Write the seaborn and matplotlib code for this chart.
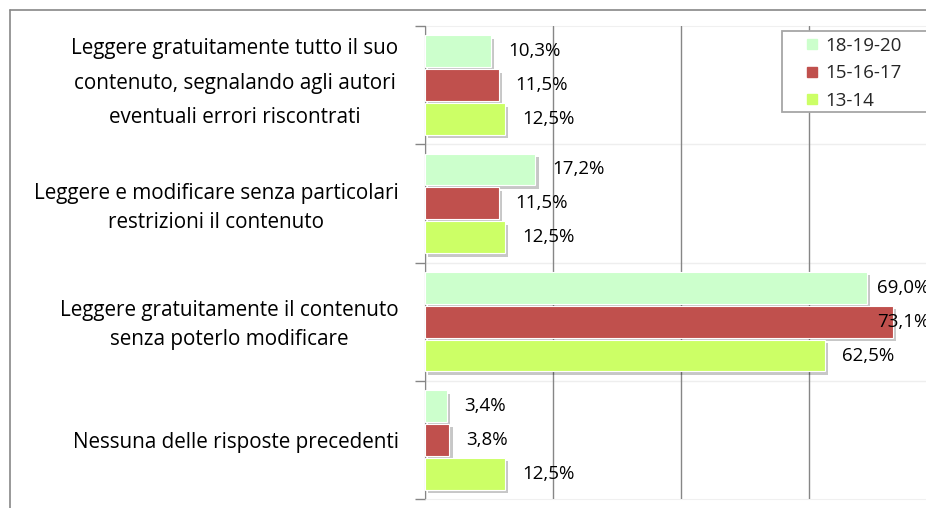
import matplotlib
matplotlib.use("Agg")
import matplotlib.pyplot as plt
import matplotlib.patheffects as pe
from matplotlib.lines import Line2D
from matplotlib.patches import Rectangle
import pandas as pd
import seaborn as sns

categories = [
    "Leggere gratuitamente tutto il suo\ncontenuto, segnalando agli autori\neventuali errori riscontrati",
    "Leggere e modificare senza particolari\nrestrizioni il contenuto",
    "Leggere gratuitamente il contenuto\nsenza poterlo modificare",
    "Nessuna delle risposte precedenti",
]
series = ["18-19-20", "15-16-17", "13-14"]
v_18_19_20 = [10.3, 17.2, 69.0, 3.4]
v_15_16_17 = [11.5, 11.5, 73.1, 3.8]
v_13_14 = [12.5, 12.5, 62.5, 12.5]
colors = ["#CCFFCC", "#C0504D", "#CCFF66"]

rows = []
for s, vals in zip(series, [v_18_19_20, v_15_16_17, v_13_14]):
    for c, v in zip(categories, vals):
        rows.append({"cat": c, "val": v, "serie": s})
df = pd.DataFrame(rows)

sns.set_style("white")
plt.rcParams["font.family"] = ["Open Sans", "DejaVu Sans"]
FS = 13.5
FS_CAT = 14.9

fig = plt.figure(figsize=(9.26, 5.08), dpi=100)
W, H = 926, 508
ax = fig.add_axes([425 / W, 9 / H, 512 / W, 473 / H])

sns.barplot(data=df, y="cat", x="val", hue="serie", orient="h",
            order=categories, hue_order=series, palette=colors, saturation=1,
            width=0.86, gap=0.06, ax=ax, legend=False, zorder=3,
            edgecolor="white", linewidth=0.8)

for p in ax.patches:
    p.set_path_effects([pe.SimplePatchShadow(offset=(2.5, -2.5), shadow_rgbFace="k", alpha=0.22),
                        pe.Normal()])

XMAX = 80
ax.set_xlim(0, XMAX)
ax.set_ylim(3.5, -0.5)

# value labels, clamped inside the plot area like the original
pad = 2.65
clamp = 70.6
for cont in ax.containers:
    for b in cont:
        v = b.get_width()
        x = min(v + pad, clamp)
        y = b.get_y() + b.get_height() / 2
        ax.text(x, y, f"{v:.1f}%".replace(".", ","), ha="left", va="center",
                fontsize=FS, color="black", zorder=5)

ax.set_xticks([0, 20, 40, 60, 80])
ax.xaxis.grid(True, color="#868686", lw=1)
ax.set_axisbelow(False)
for gl in ax.get_xgridlines():
    gl.set_zorder(4)
ax.tick_params(axis="x", length=0, labelbottom=False)
ax.set_xlabel("")
ax.set_ylabel("")

# boundary ticks on the category axis, labels drawn at the category centres
ax.set_yticks([-0.5, 0.5, 1.5, 2.5, 3.5])
ax.set_yticklabels([])
ax.tick_params(axis="y", which="major", length=7, color="#868686", width=1, left=True)
ax.tick_params(axis="y", which="minor", length=0)
trans = ax.get_yaxis_transform()
label_dy = [1.3, -3.2, -2.2, -2.2]
label_ls = [1.85, 1.5, 1.5, 1.5]
for i, c in enumerate(categories):
    ax.annotate(c, xy=(0, i), xycoords=trans, xytext=(-19, label_dy[i]),
                textcoords="offset points", ha="right", va="center",
                multialignment="center", linespacing=label_ls[i],
                fontsize=FS_CAT, color="black", annotation_clip=False)

for y in [0.5, 1.5, 2.5]:
    ax.axhline(y, color="#EEEEEE", lw=1, zorder=0)

for side in ["top", "bottom", "right"]:
    ax.spines[side].set_color("#F0F0F0")
ax.spines["left"].set_color("#868686")

# legend
handles = [Line2D([], [], marker="s", ls="", markersize=7.5, markerfacecolor=c,
                  markeredgecolor=c) for c in colors]
leg = ax.legend(handles, series, loc="upper left",
                bbox_to_anchor=((803 - 425) / 512, (499 - 37) / 473),
                borderaxespad=0, frameon=False, fontsize=FS, handlelength=1.0,
                handletextpad=0.2, labelspacing=0.5, borderpad=0)
fig.add_artist(Rectangle((782 / W, 1 - 112 / H), (950 - 782) / W, (112 - 31) / H,
                         transform=fig.transFigure, facecolor="white", edgecolor="#A6A6A6",
                         lw=1.3, zorder=5))
leg.remove()
fig.add_artist(leg)
leg.set_zorder(7)

fig.add_artist(Line2D([10 / W, 10 / W], [0, 1 - 10 / H], color="#888888", lw=1.2))
fig.add_artist(Line2D([10 / W, 1], [1 - 10 / H, 1 - 10 / H], color="#888888", lw=1.2))

fig.savefig("out.png", dpi=100)
